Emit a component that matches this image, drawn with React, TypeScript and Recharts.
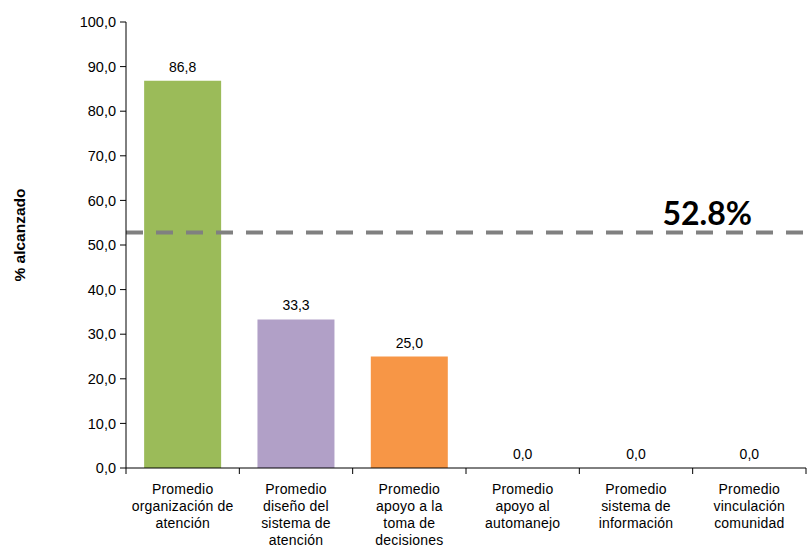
import React from "react";
import {
  ComposedChart,
  Bar,
  Line,
  Cell,
  XAxis,
  YAxis,
  ReferenceLine,
  LabelList,
} from "recharts";

const categories = [
  "Promedio\norganización de\natención",
  "Promedio\ndiseño del\nsistema de\natención",
  "Promedio\napoyo a la\ntoma de\ndecisiones",
  "Promedio\napoyo al\nautomanejo",
  "Promedio\nsistema de\ninformación",
  "Promedio\nvinculación\ncomunidad",
];
const values = [86.8, 33.3, 25.0, 0.0, 0.0, 0.0];
const barColors = ["#9BBB59", "#B1A0C7", "#F79646", "#9BBB59", "#9BBB59", "#9BBB59"];
const yTicks = [0, 10, 20, 30, 40, 50, 60, 70, 80, 90, 100];
const targetValue = 52.8;
const targetLabel = "52.8%";
const yLabel = "% alcanzado";

const data = categories.map((name, i) => ({ name, value: values[i] }));

const W = 809;
const H = 549;
const margin = { top: 22, right: 3, left: 66, bottom: 0 };
const Y_AXIS_W = 60;
const X_AXIS_H = 81;
const band = (W - margin.left - Y_AXIS_W - margin.right) / categories.length;
const FONT = "'Liberation Sans', Arial, sans-serif";

const fmt = (v: number) => v.toFixed(1).replace(".", ",");

// category label split into lines, plus tick marks on the band edges
function CategoryTick(props: any) {
  const { x, y, payload, index } = props;
  const lines = String(payload.value).split("\n");
  return (
    <g>
      {index === 0 && (
        <line x1={x - band / 2} x2={x - band / 2} y1={y} y2={y + 6} stroke="#000" />
      )}
      <line x1={x + band / 2} x2={x + band / 2} y1={y} y2={y + 6} stroke="#000" />
      <text
        x={x}
        y={y + 26}
        textAnchor="middle"
        fontSize={14}
        fontFamily={FONT}
        fill="#000"
        letterSpacing={0.2}
      >
        {lines.map((l, i) => (
          <tspan key={i} x={x} dy={i === 0 ? 0 : 17}>
            {l}
          </tspan>
        ))}
      </text>
    </g>
  );
}

export default function App() {
  return (
    <div style={{ position: "absolute", left: 0, top: 0, background: "#fff" }}>
      <ComposedChart width={W} height={H} data={data} margin={margin} barCategoryGap="16%">
        <XAxis
          dataKey="name"
          interval={0}
          height={X_AXIS_H}
          tickLine={false}
          tickSize={0}
          tickMargin={0}
          axisLine={{ stroke: "#000" }}
          tick={<CategoryTick />}
        />
        <YAxis
          width={Y_AXIS_W}
          domain={[0, 100]}
          ticks={yTicks}
          interval={0}
          tickFormatter={fmt}
          tickSize={6}
          tickMargin={4}
          axisLine={{ stroke: "#000" }}
          tickLine={{ stroke: "#000" }}
          tick={{ fontSize: 14.5, fontFamily: FONT, fill: "#000" }}
          label={{
            content: () => (
              <text
                x={19}
                y={235}
                transform="rotate(-90, 19, 235)"
                textAnchor="middle"
                dominantBaseline="central"
                fontSize={15.5}
                fontWeight="bold"
                fontFamily={FONT}
                fill="#000"
              >
                {yLabel}
              </text>
            ),
          }}
        />
        <Bar dataKey="value" isAnimationActive={false}>
          {data.map((d, i) => (
            <Cell key={d.name} fill={barColors[i]} />
          ))}
        </Bar>
        {/* invisible series so every value gets a label, zeros included */}
        <Line
          dataKey="value"
          stroke="none"
          dot={false}
          activeDot={false}
          isAnimationActive={false}
        >
          <LabelList
            dataKey="value"
            position="top"
            offset={9}
            formatter={(v: any) => fmt(Number(v))}
            style={{ fontSize: 14, fontFamily: FONT, fill: "#000" }}
          />
        </Line>
        <ReferenceLine
          y={targetValue}
          stroke="#808080"
          strokeWidth={4}
          strokeDasharray="17 13"
          label={{
            content: (p: any) => {
              const vb = p.viewBox || {};
              return (
                <text
                  x={(vb.x ?? 0) + (vb.width ?? 0) - 54}
                  y={(vb.y ?? 0) - 8}
                  textAnchor="end"
                  fontSize={32}
                  fontWeight="bold"
                  fontFamily="Lato, 'Open Sans', sans-serif"
                  fill="#000"
                >
                  {targetLabel}
                </text>
              );
            },
          }}
        />
      </ComposedChart>
    </div>
  );
}
